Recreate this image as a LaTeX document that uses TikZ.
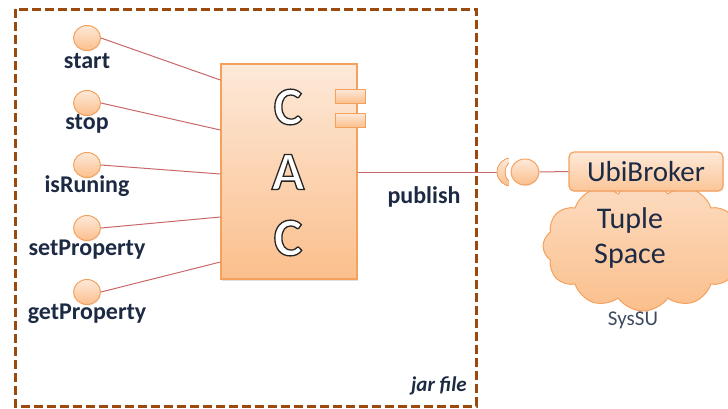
\documentclass[tikz,border=0pt]{standalone}
\usepackage{fontspec}
\setmainfont{Carlito}
\usetikzlibrary{shapes.geometric,shapes.symbols,shadows,calc}

\definecolor{framebrown}{HTML}{9A4A0E}
\definecolor{wire}{HTML}{C8686A}
\definecolor{ink}{HTML}{1C2A44}
\definecolor{edge}{HTML}{F5A15E}
\definecolor{peachtop}{HTML}{FDE9D9}
\definecolor{peachbot}{HTML}{FBBF8C}

% white glyphs with a dark stroked outline (fill+stroke text render mode)
\newcommand\outlinedglyph[1]{{\color{white}\special{pdf:literal direct 2 Tr 1.3 w 0.15 G}#1\special{pdf:literal direct 0 Tr}}}

\tikzset{
  jarframe/.style={draw=framebrown, line width=3pt, dash pattern=on 9pt off 4pt},
  port/.style={ellipse, draw=edge, line width=1pt, top color=peachtop, bottom color=peachbot,
               minimum width=27pt, minimum height=25pt, inner sep=0pt,
               drop shadow={opacity=0.15, shadow xshift=0.6pt, shadow yshift=-1pt}},
  portlabel/.style={text=ink, font=\bfseries\fontsize{24}{26}\selectfont, inner sep=0pt},
  link/.style={draw=wire, line width=1pt},
  compbox/.style={draw=edge, line width=1.3pt, top color=peachtop, bottom color=peachbot,
                  minimum width=136pt, minimum height=215pt, inner sep=0pt,
                  drop shadow={opacity=0.25, shadow xshift=1pt, shadow yshift=-2pt}},
  tab/.style={draw=edge, line width=1pt, top color=peachtop, bottom color=peachbot,
              minimum width=30pt, minimum height=14pt, inner sep=0pt,
              drop shadow={opacity=0.2, shadow xshift=0.7pt, shadow yshift=-1pt}},
  bigletter/.style={font=\bfseries\fontsize{54}{54}\selectfont, inner sep=0pt},
  broker/.style={draw=edge, line width=1.2pt, rounded corners=5pt, top color=peachtop, bottom color=peachbot!90!white,
                 minimum width=154pt, minimum height=39pt, inner sep=0pt,
                 font=\fontsize{29}{30}\selectfont, text=ink,
                 drop shadow={opacity=0.15, shadow xshift=0.8pt, shadow yshift=-1.2pt}},
  tuplecloud/.style={cloud, cloud puffs=12, cloud puff arc=110, aspect=1.6, draw=edge, line width=1pt,
                     top color=peachtop!70!peachbot, bottom color=peachbot,
                     minimum width=200pt, minimum height=130pt, inner sep=0pt},
  cloudtext/.style={font=\fontsize{30}{31}\selectfont, text=ink, inner sep=0pt},
}

\begin{document}
\begin{tikzpicture}[x=1pt, y=-1pt]
  \useasboundingbox (0,0) rectangle (728,408);

  % the jar file boundary
  \draw[jarframe] (15,9) rectangle (476,406);
  \node[font=\bfseries\itshape\fontsize{21}{23}\selectfont, text=ink, anchor=east, inner sep=0pt] (jar) at (467,386) {jar file};

  % the CAC component with its two tabs
  \node[compbox] (cac) at (289,171.5) {};
  \node[tab] (tabA) at (350,96) {};
  \node[tab] (tabB) at (350,120) {};

  % outlined letters C A C
  \node[bigletter] (letterC1) at (288,107) {\outlinedglyph{C}};
  \node[bigletter] (letterA)  at (288,172) {\outlinedglyph{A}};
  \node[bigletter] (letterC2) at (288,238) {\outlinedglyph{C}};

  % provided interfaces
  \node[port] (pstart) at (87,38) {};
  \node[port] (pstop)  at (87,103) {};
  \node[port] (prun)   at (87,165) {};
  \node[port] (pset)   at (87,228) {};
  \node[port] (pget)   at (87,292) {};

  \node[portlabel] (lstart) at (87,61)  {start};
  \node[portlabel] (lstop)  at (87,124) {stop};
  \node[portlabel] (lrun)   at (87,186) {isRuning};
  \node[portlabel] (lset)   at (87,250) {setProperty};
  \node[portlabel] (lget)   at (87,314) {getProperty};

  \draw[link] (pstart.east) -- (cac.west |- 0,80);
  \draw[link] (pstop.east)  -- (cac.west |- 0,130);
  \draw[link] (prun.east)   -- (cac.west |- 0,174);
  \draw[link] (pset.east)   -- (cac.west |- 0,217);
  \draw[link] (pget.east)   -- (cac.west |- 0,262);

  % required interface towards the broker
  \coordinate (sockin) at (499,172);
  \draw[link] (cac.east |- 0,172) -- (sockin);
  \node[portlabel] (pub) at (424,197) {publish};

  % socket (crescent)
  \begin{scope}
    \clip (490,150) rectangle (508.5,195);
    \fill[even odd rule, top color=peachtop, bottom color=peachbot]
      (511,172) ellipse [x radius=14, y radius=14] (518,172) ellipse [x radius=13, y radius=13];
    \draw[edge, line width=0.8pt] (511,172) ellipse [x radius=14, y radius=14];
    \draw[edge, line width=0.8pt] (518,172) ellipse [x radius=13, y radius=13];
  \end{scope}

  % SysSU tuple space and broker
  \node[tuplecloud] (cloud) at (643,246) {};
  \node[broker] (ubi) at (646,171.5) {UbiBroker};
  \node[port, minimum width=28pt, minimum height=26pt] (ball) at (525,172) {};
  \draw[link] (ball.east) -- (ubi.west);
  \node[cloudtext] (tuple) at (630,220) {Tuple};
  \node[cloudtext] (space) at (630,256) {Space};
  \node[font=\fontsize{21}{22}\selectfont, text=ink!85, inner sep=0pt] (syssu) at (633,320) {SysSU};
\end{tikzpicture}
\end{document}
